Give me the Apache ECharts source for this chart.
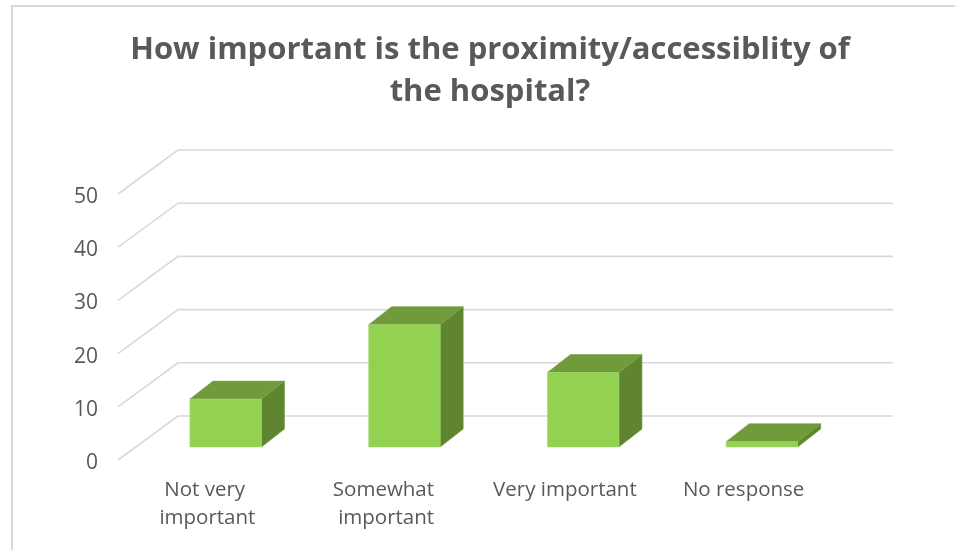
<!DOCTYPE html>
<html><head><meta charset="utf-8">
<style>html,body{margin:0;padding:0;background:#fff}#c{width:955px;height:550px}</style>
<script src="https://cdn.jsdelivr.net/npm/echarts@6/dist/echarts.min.js"></script>
</head><body><div id="c"></div>
<script>
const titleText = "How important is the proximity/accessiblity of\nthe hospital?";
const categories = ["Not very important", "Somewhat important", "Very important", "No response"];
const values = [9, 23, 14, 1];
const ticks = [0, 10, 20, 30, 40, 50];

const backDx = 60, backDy = -44;     // wall offset from the front plane
const barDx = 18.3, barDy = -13;     // bar front face offset from the front plane
const sideDx = 23, sideDy = -18;     // bar depth
const barFrac = 0.4;

const chart = echarts.init(document.getElementById('c'), null, {renderer: 'canvas'});

function renderWall(params, api) {
  const cs = params.coordSys;
  const p = api.coord([0, api.value(0)]);
  const y = p[1];
  return {type: 'polyline', silent: true,
    shape: {points: [[cs.x, y], [cs.x + backDx, y + backDy], [cs.x + cs.width + backDx, y + backDy]]},
    style: {stroke: '#d9d9d9', lineWidth: 1.6, fill: null}};
}
function renderBar(params, api) {
  const top = api.coord([api.value(0), api.value(1)]);
  const base = api.coord([api.value(0), 0]);
  const w = api.size([1, 0])[0] * barFrac;
  const x0 = top[0] - w / 2 + barDx, x1 = x0 + w;
  const yT = top[1] + barDy, yB = base[1] + barDy;
  const edge = '#a5d878';
  return {type: 'group', children: [
    {type: 'polygon', shape: {points: [[x1, yT], [x1 + sideDx, yT + sideDy], [x1 + sideDx, yB + sideDy], [x1, yB]]},
      style: {fill: '#5f8530', stroke: '#6d9438', lineWidth: 0.6}},
    {type: 'polygon', shape: {points: [[x0, yT], [x0 + sideDx, yT + sideDy], [x1 + sideDx, yT + sideDy], [x1, yT]]},
      style: {fill: '#6f9b3a', stroke: '#7aa544', lineWidth: 0.6}},
    {type: 'rect', shape: {x: x0, y: yT, width: w, height: yB - yT},
      style: {fill: '#92d250', stroke: edge, lineWidth: 0.6}}
  ]};
}

chart.setOption({
  animation: false,
  backgroundColor: '#fff',
  title: {text: titleText, left: 485, top: 24, textAlign: 'center',
    textStyle: {fontFamily: 'Open Sans', fontWeight: 700, fontSize: 31, lineHeight: 42, color: '#595959'}},
  grid: {left: 118, right: 122, top: 194, bottom: 90},
  xAxis: {type: 'category', data: categories,
    axisLine: {show: false}, axisTick: {show: false}, splitLine: {show: false},
    axisLabel: {interval: 0, margin: 16, width: 155, overflow: 'break', lineHeight: 28,
      fontFamily: 'Open Sans', fontSize: 20.5, color: '#595959'}},
  yAxis: {type: 'value', min: 0, max: 50, interval: 10,
    axisLine: {show: false}, axisTick: {show: false}, splitLine: {show: false},
    axisLabel: {margin: 20, verticalAlign: 'top', lineHeight: 6, fontFamily: 'Open Sans', fontSize: 21, color: '#595959'}},
  graphic: [{type: 'rect', silent: true, shape: {x: 12, y: 6, width: 1100, height: 900},
    style: {fill: 'none', stroke: '#d9d9d9', lineWidth: 2}, z: -1}],
  series: [
    {type: 'custom', name: 'walls', renderItem: renderWall, data: ticks.map(t => [t]), encode: {y: 0}, silent: true, z: 1, clip: false},
    {type: 'custom', name: 'Responses', renderItem: renderBar,
      data: values.map((v, i) => [i, v]), encode: {x: 0, y: 1}, z: 2, clip: false}
  ]
});
</script></body></html>
